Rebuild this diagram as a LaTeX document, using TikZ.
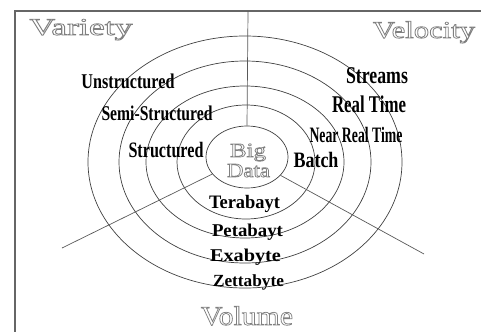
\documentclass[tikz,border=0pt]{standalone}
\usepackage{fontspec}
\setmainfont{Liberation Serif}
\usepackage{graphicx}
\usetikzlibrary{shapes.geometric}
\newcommand\hollowtxt[1]{\special{pdf:literal direct 0.7 w 1 Tr}#1\special{pdf:literal direct 0 Tr}}
\newcommand\fitw[2]{\resizebox{#1pt}{\height}{#2}}
\tikzset{
  ring/.style={draw=black!75, line width=0.7pt},
  spoke/.style={draw=black!65, line width=0.7pt},
  frameline/.style={draw=black!60, line width=1.4pt},
  lab/.style={anchor=base, inner sep=0pt, text=black},
  hol/.style={anchor=base, inner sep=0pt, text=black!50},
}
\begin{document}
\begin{tikzpicture}[x=1pt,y=-1pt]
\useasboundingbox (0,0) rectangle (481,332);
% frame (top and left)
\coordinate (ftl) at (15,11);
\coordinate (ftr) at (481,11);
\coordinate (fbl) at (15,332);
\draw[frameline] (ftr) -- (ftl) -- (fbl);
% rings
\draw[ring] (245,162) ellipse [x radius=157pt, y radius=126pt];
\draw[ring] (245,162) ellipse [x radius=126pt, y radius=101pt];
\draw[ring] (245,162) ellipse [x radius=99pt, y radius=76pt];
\draw[ring] (246,162) ellipse [x radius=69pt, y radius=57pt];
\node[ring, ellipse, minimum width=82pt, minimum height=62pt, inner sep=0pt] (core) at (247,157) {};
% spokes
\coordinate (stop) at (248,11);
\coordinate (sleft) at (62,248);
\coordinate (sright) at (424,254);
\draw[spoke] (stop) -- (core.north);
\draw[spoke] (sleft) -- (core);
\draw[spoke] (sright) -- (core);
% variety labels
\node[lab, font=\fontsize{21}{21}\selectfont\bfseries] (unstr) at (128,88) {\fitw{93}{Unstructured}};
\node[lab, font=\fontsize{21}{21}\selectfont\bfseries] (semi) at (157,120) {\fitw{111}{Semi-Structured}};
\node[lab, font=\fontsize{22}{22}\selectfont\bfseries] (str) at (166,157) {\fitw{75}{Structured}};
% velocity labels
\node[lab, font=\fontsize{24}{24}\selectfont\bfseries] (streams) at (377,83) {\fitw{62}{Streams}};
\node[lab, font=\fontsize{24}{24}\selectfont\bfseries] (rt) at (369,112) {\fitw{74}{Real Time}};
\node[lab, font=\fontsize{22}{22}\selectfont\bfseries] (nrt) at (356,142) {\fitw{93}{Near Real Time}};
\node[lab, font=\fontsize{22}{22}\selectfont\bfseries] (batch) at (316,167) {\fitw{45}{Batch}};
% volume labels
\node[lab, font=\fontsize{19}{19}\selectfont\bfseries] (tera) at (244.5,208) {\fitw{71}{Terabayt}};
\node[lab, font=\fontsize{18}{18}\selectfont\bfseries] (peta) at (247.5,236) {\fitw{71}{Petabayt}};
\node[lab, font=\fontsize{18}{18}\selectfont\bfseries] (exa) at (245.5,261) {\fitw{71}{Exabyte}};
\node[lab, font=\fontsize{17}{17}\selectfont\bfseries] (zetta) at (248.5,286) {\fitw{71}{Zettabyte}};
% outlined headings
\node[hol, font=\fontsize{24}{24}\selectfont] (variety) at (81,35) {\fitw{103}{\hollowtxt{Variety}}};
\node[hol, font=\fontsize{24}{24}\selectfont] (velocity) at (424,38) {\fitw{102}{\hollowtxt{Velocity}}};
\node[hol, font=\fontsize{27}{27}\selectfont] (volume) at (247,325) {\fitw{92}{\hollowtxt{Volume}}};
\node[hol, font=\fontsize{20}{20}\selectfont] (big) at (248,157) {\fitw{36}{\hollowtxt{Big}}};
\node[hol, font=\fontsize{20}{20}\selectfont] (data) at (248.5,177) {\fitw{43}{\hollowtxt{Data}}};
\end{tikzpicture}
\end{document}
